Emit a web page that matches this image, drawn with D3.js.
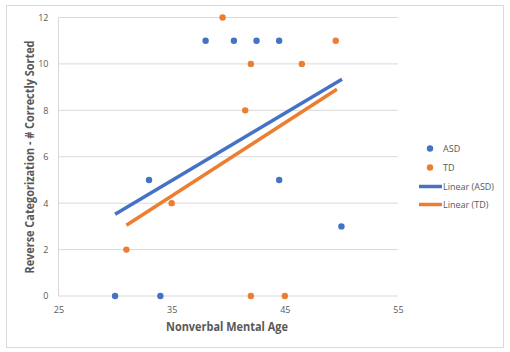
<!DOCTYPE html>
<html>
<head>
<meta charset="utf-8">
<script src="https://cdn.jsdelivr.net/npm/d3@7"></script>
<style>
  body { margin: 0; background: #fff; }
  text { font-family: "Open Sans", "Noto Sans", sans-serif; }
  .tick text { fill: #595959; font-size: 9px; }
  .axisLabel { fill: #595959; font-size: 12px; font-weight: bold; }
  .legend text { fill: #595959; font-size: 9px; }
</style>
</head>
<body>
<div id="chart"></div>
<script>
// values
const asdX = [30, 34, 33, 38, 40.5, 42.5, 44.5, 44.5, 50];
const asdY = [0, 0, 5, 11, 11, 11, 11, 5, 3];
const tdX = [39.5, 42, 41.5, 46.5, 49.5, 31, 35, 42, 45];
const tdY = [12, 10, 8, 10, 11, 2, 4, 0, 0];
const asdTrend = [[30, 3.52], [50.05, 9.34]];
const tdTrend = [[31, 3.05], [49.6, 8.91]];
const xTicks = [25, 35, 45, 55];
const yTicks = [0, 2, 4, 6, 8, 10, 12];

const width = 510, height = 352;
const margin = {top: 17.5, left: 58.5, right: 112, bottom: 56};
const blue = "#4472C4", orange = "#ED7D31";

const svg = d3.select("#chart")
    .append("svg")
    .attr("width", width)
    .attr("height", height);

// chart border
svg.append("rect")
    .attr("x", 6.5).attr("y", 5.5)
    .attr("width", 497).attr("height", 342)
    .attr("fill", "#fff")
    .attr("stroke", "#d9d9d9");

const xScale = d3.scaleLinear()
    .domain([25, 55])
    .range([margin.left, width - margin.right]);

const yScale = d3.scaleLinear()
    .domain([0, 12])
    .range([height - margin.bottom, margin.top]);

// gridlines
svg.append("g")
    .selectAll("line")
    .data(yTicks)
    .enter()
    .append("line")
    .attr("x1", xScale(25))
    .attr("x2", xScale(55))
    .attr("y1", d => yScale(d))
    .attr("y2", d => yScale(d))
    .attr("stroke", "#d9d9d9");

svg.append("line")
    .attr("x1", xScale(25)).attr("x2", xScale(25))
    .attr("y1", yScale(0)).attr("y2", yScale(12))
    .attr("stroke", "#d9d9d9");

// axes (labels only)
const xAxis = svg.append("g")
    .attr("transform", `translate(0,${yScale(0)})`)
    .call(d3.axisBottom(xScale).tickValues(xTicks).tickSize(0).tickPadding(11));
xAxis.select(".domain").remove();

const yAxis = svg.append("g")
    .attr("transform", `translate(${xScale(25)},0)`)
    .call(d3.axisLeft(yScale).tickValues(yTicks).tickSize(0).tickPadding(10));
yAxis.select(".domain").remove();

// trendlines
const line = d3.line()
    .x(d => xScale(d[0]))
    .y(d => yScale(d[1]));

svg.append("path")
    .datum(asdTrend)
    .attr("d", line)
    .attr("stroke", blue)
    .attr("stroke-width", 3.5)
    .attr("fill", "none");

svg.append("path")
    .datum(tdTrend)
    .attr("d", line)
    .attr("stroke", orange)
    .attr("stroke-width", 3.5)
    .attr("fill", "none");

// points
svg.append("g")
    .selectAll("circle")
    .data(asdX.map((x, i) => [x, asdY[i]]))
    .enter()
    .append("circle")
    .attr("cx", d => xScale(d[0]))
    .attr("cy", d => yScale(d[1]))
    .attr("r", 3.2)
    .attr("fill", blue);

svg.append("g")
    .selectAll("circle")
    .data(tdX.map((x, i) => [x, tdY[i]]))
    .enter()
    .append("circle")
    .attr("cx", d => xScale(d[0]))
    .attr("cy", d => yScale(d[1]))
    .attr("r", 3.2)
    .attr("fill", orange);

// axis labels
svg.append("text")
    .attr("class", "axisLabel")
    .attr("x", 227)
    .attr("y", 331)
    .attr("text-anchor", "middle")
    .attr("textLength", 122)
    .attr("lengthAdjust", "spacingAndGlyphs")
    .text("Nonverbal Mental Age");

svg.append("text")
    .attr("class", "axisLabel")
    .attr("transform", "rotate(-90)")
    .attr("x", -157)
    .attr("y", 34)
    .attr("text-anchor", "middle")
    .attr("textLength", 233)
    .attr("lengthAdjust", "spacingAndGlyphs")
    .text("Reverse Categorization - # Correctly Sorted");

// legend
const legend = svg.append("g").attr("class", "legend");
legend.append("circle").attr("cx", 430).attr("cy", 148.5).attr("r", 3.2).attr("fill", blue);
legend.append("text").attr("x", 443).attr("y", 151.5).text("ASD");
legend.append("circle").attr("cx", 430).attr("cy", 167.5).attr("r", 3.2).attr("fill", orange);
legend.append("text").attr("x", 443).attr("y", 170.5).text("TD");
legend.append("line").attr("x1", 419).attr("x2", 442).attr("y1", 186.5).attr("y2", 186.5)
    .attr("stroke", blue).attr("stroke-width", 3.5);
legend.append("text").attr("x", 443).attr("y", 189.5).text("Linear (ASD)");
legend.append("line").attr("x1", 419).attr("x2", 442).attr("y1", 204.5).attr("y2", 204.5)
    .attr("stroke", orange).attr("stroke-width", 3.5);
legend.append("text").attr("x", 443).attr("y", 207.5).text("Linear (TD)");
</script>
</body>
</html>
